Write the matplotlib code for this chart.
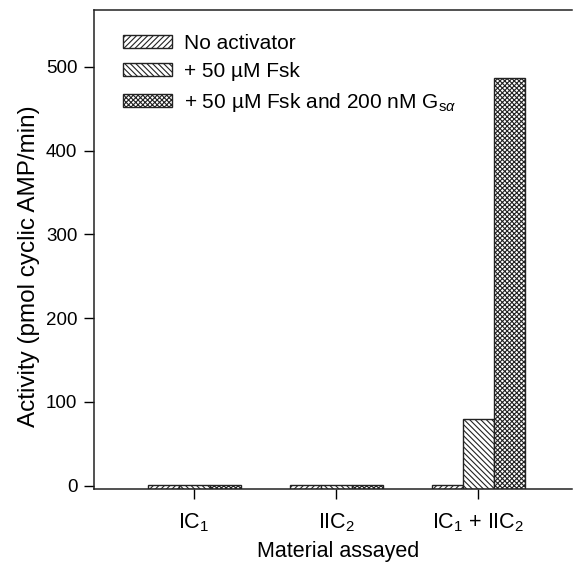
import numpy as np
import matplotlib
matplotlib.use("Agg")
import matplotlib.pyplot as plt

plt.rcParams['font.family'] = ['Liberation Sans', 'DejaVu Sans']
plt.rcParams['mathtext.fontset'] = 'custom'
plt.rcParams['mathtext.rm'] = 'Liberation Sans'
plt.rcParams['mathtext.it'] = 'Liberation Sans:italic'
plt.rcParams['hatch.linewidth'] = 0.8

# data
materials = ['IC$_1$', 'IIC$_2$', 'IC$_1$ + IIC$_2$']
no_activator = [1, 1, 1]
fsk = [1, 1, 80]
fsk_gsa = [1, 1, 487]
series_labels = ['No activator', '+ 50 µM Fsk',
                 '+ 50 µM Fsk and 200 nM G$_{\\mathrm{s}α}$']
y_ticks = [0, 100, 200, 300, 400, 500]

fig = plt.figure(figsize=(5.74, 5.64), dpi=100)
ax = fig.add_axes([0.1638, 0.133, 0.8327, 0.8493])

y_floor = -4
x = np.arange(len(materials))
w = 0.218
series = [no_activator, fsk, fsk_gsa]
hatches = ['//////', '\\\\\\\\\\\\', 'xxxxxxx']
for i, (vals, lab, h) in enumerate(zip(series, series_labels, hatches)):
    vals = np.array(vals, dtype=float)
    ax.bar(x + (i - 1) * w, vals - y_floor, width=w, bottom=y_floor,
           color='white', edgecolor='#222222', hatch=h, linewidth=1.0, label=lab)

ax.set_xlim(-0.704, 2.66)
ax.set_ylim(y_floor, 568)
ax.set_yticks(y_ticks)
ax.set_xticks(x)
ax.set_xticklabels(materials, fontsize=15.5)
ax.tick_params(axis='y', labelsize=13.5, length=7, width=1, direction='out', pad=5)
ax.tick_params(axis='x', length=7, width=1, direction='out', pad=9)
ax.spines['right'].set_visible(False)
for s in ['left', 'top', 'bottom']:
    ax.spines[s].set_linewidth(1.1)
    ax.spines[s].set_color('#222222')

ax.set_ylabel('Activity (pmol cyclic AMP/min)', fontsize=17.5)
ax.yaxis.set_label_coords(-0.112, 0.466)
ax.set_xlabel('Material assayed', fontsize=15.5)
ax.xaxis.set_label_coords(0.51, -0.108)

leg = ax.legend(loc='upper left', bbox_to_anchor=(0.026, 0.985), frameon=False,
                fontsize=15, handlelength=2.35, handleheight=0.6,
                handletextpad=0.55, labelspacing=0.45, borderpad=0.3)

fig.savefig('out.png', dpi=100)
